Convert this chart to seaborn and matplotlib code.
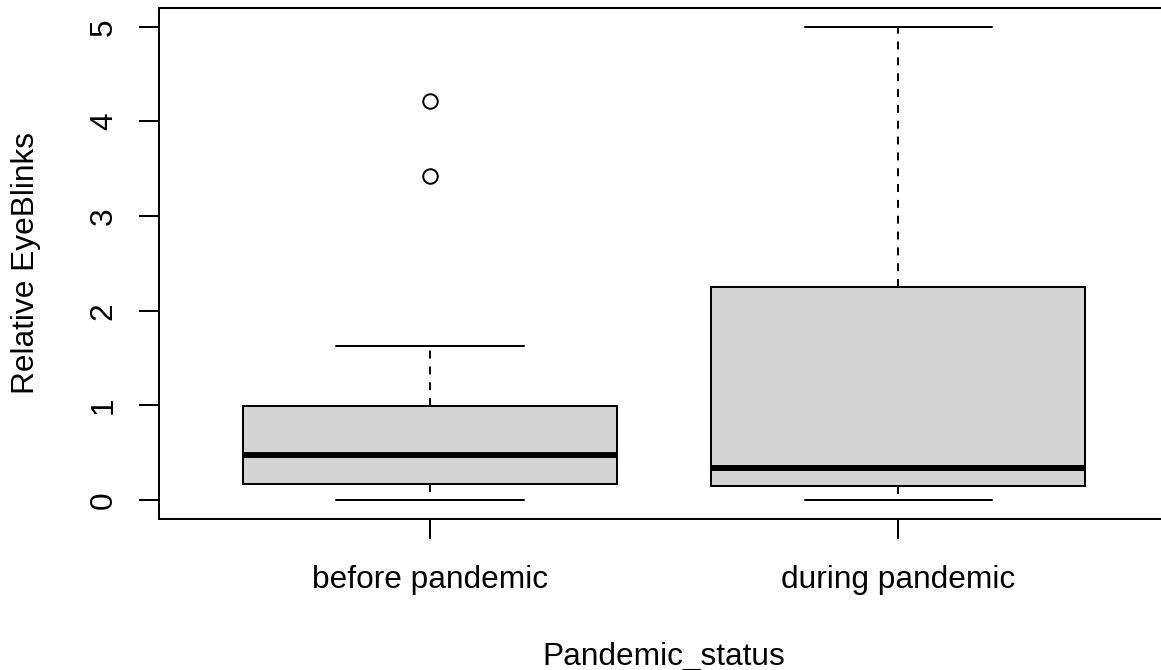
import matplotlib
matplotlib.use("Agg")
import matplotlib.pyplot as plt
import seaborn as sns
import pandas as pd

# ---- data ----
categories = ["before pandemic", "during pandemic"]
before_values = [0.00, 0.05, 0.11, 0.169, 0.26, 0.37, 0.475, 0.62, 0.80, 0.993, 1.624, 3.42, 4.22]
during_values = [0.00, 0.06, 0.148, 0.24, 0.335, 1.10, 2.25, 3.50, 5.00]
y_ticks = [0, 1, 2, 3, 4, 5]
x_label = "Pandemic_status"
y_label = "Relative EyeBlinks"

df = pd.DataFrame({
    "Pandemic_status": [categories[0]] * len(before_values) + [categories[1]] * len(during_values),
    "value": before_values + during_values,
})

sns.set_style("ticks")
plt.rcParams["font.family"] = ["Liberation Sans", "DejaVu Sans"]
plt.rcParams["font.size"] = 12

DPI = 190
fig = plt.figure(figsize=(1161 / DPI, 670 / DPI), dpi=DPI)
W, H = 1161, 670
left, right, top, bottom = 158.6, 1169.7, 7.8, 519.0
ax = fig.add_axes([left / W, (H - bottom) / H, (right - left) / W, (bottom - top) / H])

lw = 0.75
sns.boxplot(
    data=df, x="Pandemic_status", y="value", order=categories,
    color="#D3D3D3", saturation=1, width=0.8, whis=1.5,
    linecolor="black", linewidth=lw, ax=ax,
    medianprops=dict(color="black", linewidth=2.25),
    whiskerprops=dict(color="black", linewidth=lw, linestyle=(0, (4, 4))),
    capprops=dict(color="black", linewidth=lw),
    boxprops=dict(edgecolor="black", linewidth=lw),
    flierprops=dict(marker="o", markerfacecolor="none", markeredgecolor="black",
                    markeredgewidth=lw, markersize=5.5),
)

ax.set_xlim(-0.58, 1.58)
ax.set_ylim(-0.2, 5.2)
ax.set_yticks(y_ticks)
ax.set_yticklabels([str(t) for t in y_ticks], rotation=90, va="center")
ax.set_xticks([0, 1])
ax.set_xticklabels(categories)

for sp in ax.spines.values():
    sp.set_visible(True)
    sp.set_color("black")
    sp.set_linewidth(lw)

ax.tick_params(axis="both", direction="out", length=7.5, width=lw, colors="black",
               labelsize=12, labelcolor="black")
ax.tick_params(axis="y", pad=7.6)
ax.tick_params(axis="x", pad=9.9)

ax.set_xlabel(x_label, fontsize=12, color="black", labelpad=17.8)
ax.set_ylabel(y_label, fontsize=12, color="black", labelpad=18)

fig.savefig("out.png", dpi=DPI)
